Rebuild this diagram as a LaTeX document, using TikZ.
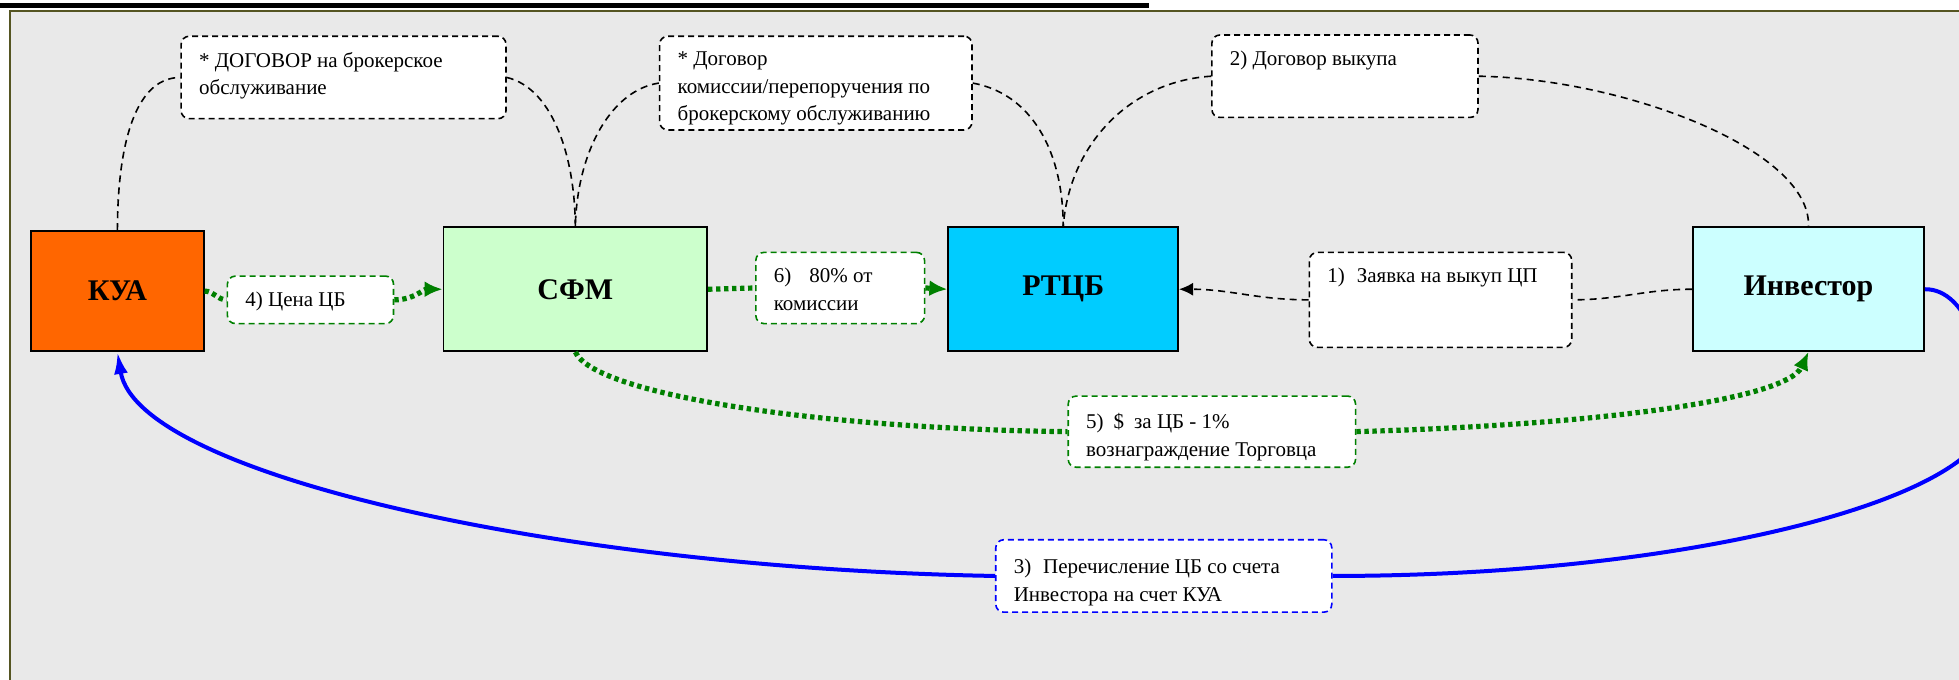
\documentclass[tikz,border=0pt]{standalone}
\usepackage{fontspec}
\setmainfont{Liberation Serif}
\newfontfamily\diagfont{Liberation Serif}
\usetikzlibrary{arrows.meta}
\definecolor{kuaorange}{RGB}{255,102,0}
\definecolor{sfmgreen}{RGB}{204,255,204}
\definecolor{rtcbblue}{RGB}{0,204,255}
\definecolor{invcyan}{RGB}{204,255,255}
\definecolor{sheetgrey}{RGB}{233,233,233}
\definecolor{frameolive}{RGB}{85,85,34}
\definecolor{paygreen}{RGB}{0,128,0}
\def\notetext#1#2#3{\parbox[c][\dimexpr#2-12pt\relax][t]{\dimexpr#1-18pt\relax}{\vspace*{2pt}\raggedright #3}}

\begin{document}
\begin{tikzpicture}[x=0.625pt, y=-0.625pt,
		unit/.style={draw=black, line width=0.9pt, inner sep=0pt, font=\diagfont\bfseries\fontsize{15}{18}\selectfont},
		note/.style={draw=black, fill=white, rounded corners=4pt, line width=0.8pt, dash pattern=on 3pt off 2pt, inner xsep=9pt, inner ysep=6pt, font=\diagfont\fontsize{10.5}{13.75}\selectfont},
		contract/.style={line width=0.8pt, dash pattern=on 3.5pt off 2.5pt},
		money/.style={paygreen, line width=2.6pt, dash pattern=on 2.2pt off 1.8pt},
		transfer/.style={blue, line width=2pt}]
		%%%%% START %%%%%
		
		\useasboundingbox (0,0) rectangle (1568,544);
		\clip (0,0) rectangle (1568,544);
		\fill[sheetgrey] (7.7,8.8) rectangle (1570,546);
		\draw[frameolive, line width=1pt] (7.7,546) -- (7.7,8.8) -- (1570,8.8);
		\fill[black] (0,2.8) rectangle (920,6.2);
		
		\node[unit, fill=kuaorange, minimum width=86.25pt, minimum height=60pt] (kua) at (94,233) {КУА};
		\node[unit, fill=sfmgreen, minimum width=131.9pt, minimum height=61.9pt] (sfm) at (460.5,231.5) {СФМ};
		\node[unit, fill=rtcbblue, minimum width=115pt, minimum height=61.9pt] (rtcb) at (851,231.5) {РТЦБ};
		\node[unit, fill=invcyan, minimum width=115.6pt, minimum height=61.9pt] (inv) at (1447.5,231.5) {Инвестор};
		
		\node[note] (dog1) at (275,62) {\notetext{162.5pt}{41.25pt}{* ДОГОВОР на брокерское\\обслуживание}};
		\node[note] (dog2) at (653,66.5) {\notetext{156.25pt}{46.9pt}{* Договор\\комиссии/перепоручения по\\брокерскому обслуживанию}};
		\node[note] (dog3) at (1076.5,61) {\notetext{133.1pt}{41.25pt}{2) Договор выкупа}};
		\node[note] (zayav) at (1153,240) {\notetext{131.25pt}{47.5pt}{1)\hspace{6pt}Заявка на выкуп ЦП}};
		
		\node[note, draw=paygreen] (cena) at (248.5,240) {\notetext{83.1pt}{23.75pt}{4) Цена ЦБ}};
		\node[note, draw=paygreen] (kom) at (672.5,230.5) {\notetext{84.4pt}{35.6pt}{6)\hspace{9pt}80\% от\\комиссии}};
		\node[note, draw=paygreen] (oplata) at (970,345.5) {\notetext{143.75pt}{35.6pt}{\vspace*{0.8pt}5)\hspace{5pt}\$\hspace{5pt}за ЦБ - 1\%\\вознаграждение Торговца}};
		\node[note, draw=blue] (perech) at (931.5,461) {\notetext{168.1pt}{36.25pt}{\vspace*{1.8pt}3)\hspace{6pt}Перечисление ЦБ со счета\\Инвестора на счет КУА}};
		
		% contracts
		\draw[contract] (kua.north) .. controls (94,125) and (105,62) .. (dog1.west);
		\draw[contract] (dog1.east) .. controls (440,70) and (460,120) .. (sfm.north);
		\draw[contract] (dog2.west) .. controls (490,72) and (462,120) .. (sfm.north);
		\draw[contract] (dog2.east) .. controls (825,75) and (851,120) .. (rtcb.north);
		\draw[contract] (dog3.west) .. controls (905,65) and (856,115) .. (rtcb.north);
		\draw[contract] (dog3.east) .. controls (1300,63) and (1450,120) .. (inv.north);
		
		% request
		\draw[contract] (inv.west) to[out=180, in=0] (zayav.east);
		\draw[contract, -{Latex[length=7pt, width=6.5pt]}] (zayav.west) to[out=180, in=0] (rtcb.east);
		
		% money
		\draw[money] (kua.east) to[out=0, in=180] (cena.west);
		\draw[money, -{Latex[length=9pt, width=8pt]}] (cena.east) to[out=0, in=180] (sfm.west);
		\draw[money] (sfm.east) -- (kom.west);
		\draw[money, -{Latex[length=9pt, width=8pt]}] (kom.east) -- (rtcb.west);
		\draw[money] (sfm.south) .. controls (475,315) and (650,343) .. (oplata.west);
		\draw[money, -{Latex[length=9pt, width=8pt]}] (oplata.east) .. controls (1280,340) and (1430,320) .. (inv.south);
		
		% securities
		\coordinate (bend) at (1592,335);
		\draw[transfer] (inv.east) .. controls (1575,231) and (1592,290) .. (bend)
			.. controls (1585,400) and (1350,461) .. (perech.east);
		\draw[transfer, -{Latex[length=11pt, width=7pt]}] (perech.west) .. controls (450,455) and (110,380) .. (kua.south);
		
		%%%%% END %%%%%
	\end{tikzpicture}
\end{document}
